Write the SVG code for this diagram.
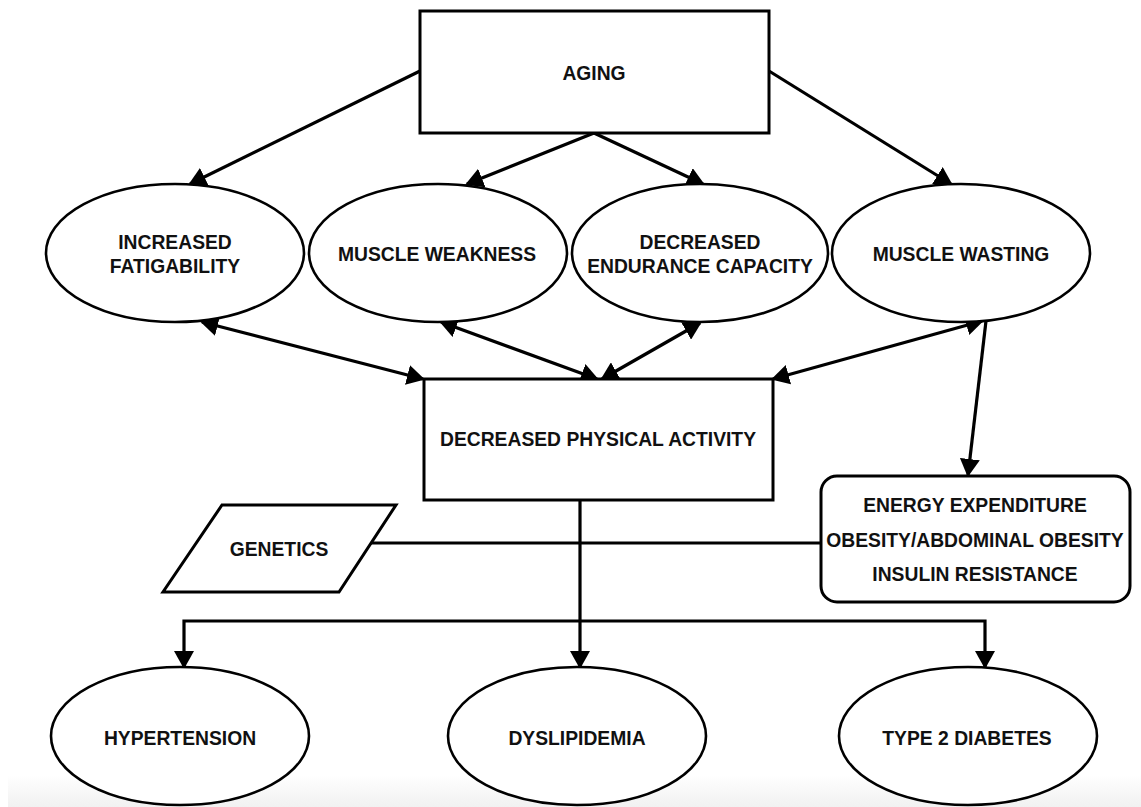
<svg xmlns="http://www.w3.org/2000/svg" width="1141" height="807" viewBox="0 0 1141 807">
  <style>
    .shape { fill: #ffffff; stroke: #000000; stroke-width: 2.6; }
    .box { fill: #ffffff; stroke: #000000; stroke-width: 3; }
    .label { font-family: "Liberation Sans", Arial, sans-serif; font-weight: bold; font-size: 19.3px; fill: #111111; text-anchor: middle; }
    .edge { fill: none; stroke: #000000; stroke-width: 3.2; stroke-linecap: butt; stroke-linejoin: miter; }
    .arrow { marker-end: url(#head); }
    .both { marker-start: url(#head); marker-end: url(#head); }
  </style>
  <defs>
    <marker id="head" markerUnits="userSpaceOnUse" markerWidth="18" markerHeight="20" viewBox="0 0 18 20" refX="16" refY="10" orient="auto-start-reverse">
      <path d="M0,0 L18,10 L0,20 Z" fill="#000000"/>
    </marker>
    <linearGradient id="floor" x1="0" y1="0" x2="0" y2="1">
      <stop offset="0" stop-color="#ffffff"/>
      <stop offset="1" stop-color="#f1f1f1"/>
    </linearGradient>
  </defs>

  <rect x="0" y="0" width="1141" height="807" fill="#ffffff"/>
  <rect x="8" y="775" width="1133" height="32" fill="url(#floor)"/>

  <!-- connectors -->
  <g id="connectors">
    <path class="edge arrow" d="M420,71 L190,184"/>
    <path class="edge arrow" d="M594,133 L467,184"/>
    <path class="edge arrow" d="M594,133 L703,184"/>
    <path class="edge arrow" d="M769,71 L951,184"/>
    <path class="edge both" d="M202,322 L423,379"/>
    <path class="edge both" d="M441,322 L597,379"/>
    <path class="edge both" d="M700,323 L602,379"/>
    <path class="edge both" d="M982,321 L773,379"/>
    <path class="edge arrow" d="M986,321 L968,475"/>
    <path class="edge arrow" d="M580,500 L580,667"/>
    <path class="edge arrow" d="M580,621 L184,621 L184,667"/>
    <path class="edge arrow" d="M580,621 L985,621 L985,667"/>
    <path class="edge" d="M370,543 L821,543"/>
  </g>

  <g id="aging">
    <rect class="box" x="420" y="11" width="349" height="122"/>
    <text class="label" x="594" y="80">AGING</text>
  </g>

  <g id="fatigability">
    <ellipse class="shape" cx="175" cy="253" rx="129" ry="69"/>
    <text class="label" x="175" y="249">INCREASED</text>
    <text class="label" x="175" y="273">FATIGABILITY</text>
  </g>

  <g id="weakness">
    <ellipse class="shape" cx="438" cy="253" rx="129" ry="69"/>
    <text class="label" x="437" y="261">MUSCLE WEAKNESS</text>
  </g>

  <g id="endurance">
    <ellipse class="shape" cx="700" cy="253" rx="128" ry="69"/>
    <text class="label" x="700" y="249">DECREASED</text>
    <text class="label" x="700" y="273">ENDURANCE CAPACITY</text>
  </g>

  <g id="wasting">
    <ellipse class="shape" cx="961" cy="253" rx="129" ry="69"/>
    <text class="label" x="961" y="261">MUSCLE WASTING</text>
  </g>

  <g id="physical-activity">
    <rect class="box" x="424" y="379" width="349" height="121"/>
    <text class="label" x="598" y="446">DECREASED PHYSICAL ACTIVITY</text>
  </g>

  <g id="metabolic">
    <rect class="box" x="821" y="476" width="309" height="126" rx="16" ry="16"/>
    <text class="label" x="975" y="512">ENERGY EXPENDITURE</text>
    <text class="label" x="975" y="547">OBESITY/ABDOMINAL OBESITY</text>
    <text class="label" x="975" y="581">INSULIN RESISTANCE</text>
  </g>

  <g id="genetics">
    <polygon class="box" points="222,505 396,505 339,592 163,592"/>
    <text class="label" x="279" y="556">GENETICS</text>
  </g>

  <g id="hypertension">
    <ellipse class="shape" cx="180" cy="736" rx="129" ry="69"/>
    <text class="label" x="180" y="745">HYPERTENSION</text>
  </g>

  <g id="dyslipidemia">
    <ellipse class="shape" cx="577" cy="736" rx="129" ry="69"/>
    <text class="label" x="577" y="745">DYSLIPIDEMIA</text>
  </g>

  <g id="diabetes">
    <ellipse class="shape" cx="968" cy="736" rx="129" ry="69"/>
    <text class="label" x="967" y="745">TYPE 2 DIABETES</text>
  </g>
</svg>
